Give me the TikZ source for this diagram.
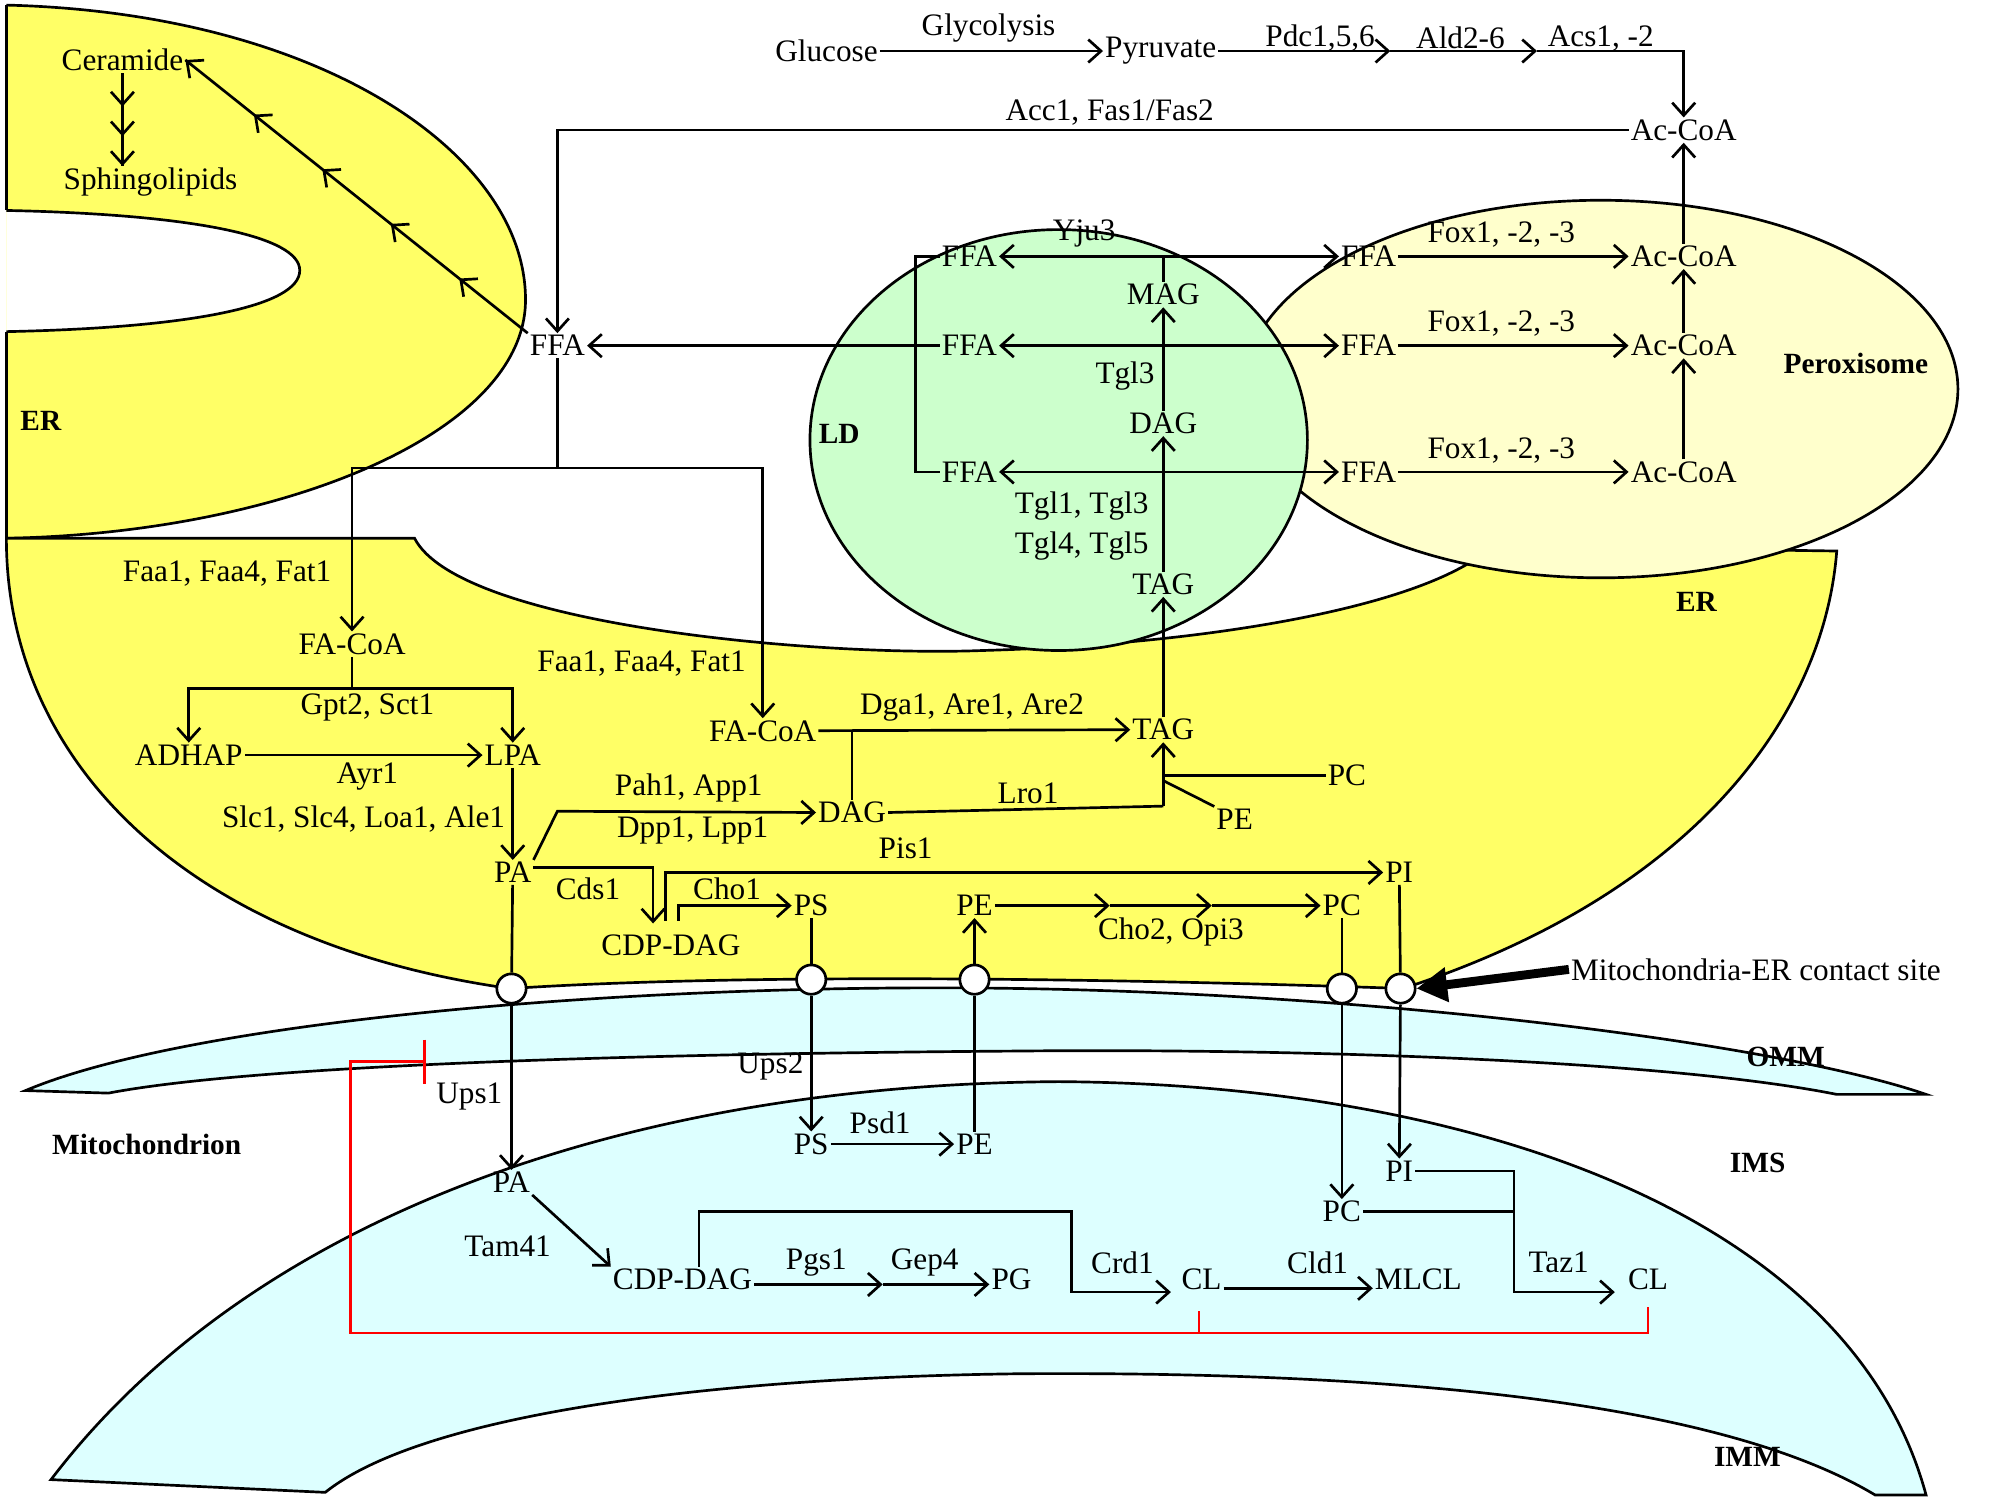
\documentclass[tikz,border=0pt]{standalone}
\usepackage{fontspec}
\setmainfont{Liberation Serif}
\usetikzlibrary{arrows.meta,decorations.markings}
\begin{document}
\begin{tikzpicture}[x=1pt,y=-1pt,
  t/.style={font=\fontsize{24.5}{28}\selectfont, inner sep=1.5pt},
  b/.style={font=\fontsize{23}{26}\selectfont\bfseries, inner sep=1pt},
  ln/.style={line width=2.1pt},
  arr/.style={ln,-{Straight Barb[length=10pt,width=18pt,line width=2.1pt]}},
  darr/.style={ln,{Straight Barb[length=10pt,width=18pt,line width=2.1pt]}-{Straight Barb[length=10pt,width=18pt,line width=2.1pt]}},
  ct/.style={circle,draw,fill=white,line width=2.1pt,minimum size=23pt,inner sep=0pt},
  midarr/.style={ln,postaction={decorate},decoration={markings,
     mark=at position 0.2 with {\arrow{Straight Barb[length=10pt,width=18pt,line width=2.1pt]}},
     mark=at position 0.4 with {\arrow{Straight Barb[length=10pt,width=18pt,line width=2.1pt]}},
     mark=at position 0.6 with {\arrow{Straight Barb[length=10pt,width=18pt,line width=2.1pt]}},
     mark=at position 0.8 with {\arrow{Straight Barb[length=10pt,width=18pt,line width=2.1pt]}},
     mark=at position 1 with {\arrow{Straight Barb[length=10pt,width=18pt,line width=2.1pt]}}}},
  triarr/.style={ln,postaction={decorate},decoration={markings,
     mark=at position 0.36 with {\arrow{Straight Barb[length=10pt,width=18pt,line width=2.1pt]}},
     mark=at position 0.68 with {\arrow{Straight Barb[length=10pt,width=18pt,line width=2.1pt]}},
     mark=at position 1 with {\arrow{Straight Barb[length=10pt,width=18pt,line width=2.1pt]}}}}]
\definecolor{ery}{RGB}{255,255,102}
\definecolor{ldg}{RGB}{204,255,204}
\definecolor{pxy}{RGB}{255,255,204}
\definecolor{mtc}{RGB}{221,255,255}
\useasboundingbox (0,0) rectangle (1568,1177);
% upper ER
\fill[ery] (5,4) .. controls (250,10) and (412,120) .. (412,235) .. controls (412,340) and (220,418) .. (5,422) -- cycle;
\draw[ln] (5,4) -- (5,165);
\draw[ln] (5,260) -- (5,422);
\draw[ln] (5,4) .. controls (250,10) and (412,120) .. (412,235) .. controls (412,340) and (220,418) .. (5,422);
\draw[ln,fill=white] (5,165) .. controls (150,168) and (235,185) .. (235,212) .. controls (235,240) and (150,257) .. (5,260);
% lower ER
\draw[ln,fill=ery] (5,422) -- (325,422) .. controls (360,490) and (640,515) .. (770,510) .. controls (950,505) and (1120,475) .. (1170,428) -- (1440,432) .. controls (1430,560) and (1330,700) .. (1100,775) .. controls (900,768) and (600,762) .. (400,775) .. controls (150,740) and (5,600) .. (5,422) -- cycle;
% peroxisome and LD
\draw[ln,fill=pxy] (1255,305) ellipse [x radius=280, y radius=148];
\draw[ln,fill=ldg] (830,345) ellipse [x radius=195, y radius=165];
% OMM
\draw[ln,fill=mtc] (20,855) .. controls (150,800) and (500,770) .. (800,775) .. controls (1100,780) and (1400,820) .. (1510,858) -- (1440,858) .. controls (1300,830) and (1000,822) .. (800,824) .. controls (500,826) and (200,835) .. (85,857) -- cycle;
% IMM
\draw[ln,fill=mtc] (40,1160) .. controls (200,950) and (500,850) .. (830,848) .. controls (1150,850) and (1450,950) .. (1510,1172) -- (1470,1172) .. controls (1350,1100) and (1100,1075) .. (800,1077) .. controls (550,1080) and (330,1110) .. (255,1170) -- cycle;

% bold labels
\node[b] at (32,330) {ER};
\node[b] at (1330,472) {ER};
\node[b] at (658,340) {LD};
\node[b] at (1455,285) {Peroxisome};
\node[b] at (1400,829) {OMM};
\node[b] at (115,897) {Mitochondrion};
\node[b] at (1378,912) {IMS};
\node[b] at (1370,1142) {IMM};

% top pathway
\node[t] (glu) at (648,40) {Glucose};
\node[t] (pyr) at (910,40) {Pyruvate};
\node[t] at (775,22) {Glycolysis};
\node[t] at (1035,30) {Pdc1,5,6};
\node[t] at (1145,30) {Ald2-6};
\node[t] at (1255,30) {Acs1, -2};
\node[t] (ac0) at (1320,102) {Ac-CoA};
\node[t] at (870,88) {Acc1, Fas1/Fas2};
\coordinate (p1) at (1090,40);
\coordinate (p2) at (1205,40);
\draw[arr] (glu) -- (pyr);
\draw[arr] (pyr.east) -- (p1);
\draw[arr] (p1) -- (p2);
\draw[arr] (p2) -| (ac0.north);

% peroxisome
\node[t] (pf1) at (1073,201) {FFA};
\node[t] (pf2) at (1073,271) {FFA};
\node[t] (pf3) at (1073,370) {FFA};
\node[t] (pa1) at (1320,201) {Ac-CoA};
\node[t] (pa2) at (1320,271) {Ac-CoA};
\node[t] (pa3) at (1320,370) {Ac-CoA};
\node[t] at (1177,184) {Fox1, -2, -3};
\node[t] at (1177,254) {Fox1, -2, -3};
\node[t] at (1177,353) {Fox1, -2, -3};
\draw[arr] (pf1) -- (pa1);
\draw[arr] (pf2) -- (pa2);
\draw[arr] (pf3) -- (pa3);
\draw[arr] (pa3) -- (pa2);
\draw[arr] (pa2) -- (pa1);
\draw[arr] (pa1) -- (ac0);

% LD
\node[t] (lf1) at (760,201) {FFA};
\node[t] (lf2) at (760,271) {FFA};
\node[t] (lf3) at (760,370) {FFA};
\node[t] (mag) at (912,231) {MAG};
\node[t] (dag1) at (912,332) {DAG};
\node[t] (tag1) at (912,458) {TAG};
\node[t] at (850,183) {Yju3};
\node[t] at (882,295) {Tgl3};
\node[t] at (848,397) {Tgl1, Tgl3};
\node[t] at (848,428) {Tgl4, Tgl5};
\draw[darr] (lf1) -- (pf1);
\draw[darr] (lf2) -- (pf2);
\draw[darr] (lf3) -- (pf3);
\coordinate (v1) at (718,201);
\coordinate (v3) at (718,370);
\draw[ln] (lf1.west) -- (v1) -- (v3) -- (lf3.west);
\draw[ln] (mag.north) -- (mag.north |- lf1);
\draw[arr] (dag1) -- (mag);
\draw[arr] (tag1) -- (dag1);

% upper ER
\node[t] (ffa0) at (437,271) {FFA};
\node[t] (cer) at (96,47) {Ceramide};
\node[t] (sph) at (118,143) {Sphingolipids};
\draw[arr] (lf2) -- (ffa0);
\draw[arr] (ac0.west) -| (ffa0.north);
\draw[midarr] (ffa0.north west) -- (cer.east);
\draw[triarr] (cer.south) -- (sph.north -| cer.south);

% lower ER
\node[t] at (178,450) {Faa1, Faa4, Fat1};
\node[t] (fac1) at (276,505) {FA-CoA};
\node[t] at (288,555) {Gpt2, Sct1};
\node[t] (adhap) at (148,592) {ADHAP};
\node[t] (lpa) at (402,592) {LPA};
\node[t] at (288,609) {Ayr1};
\node[t] at (285,642) {Slc1, Slc4, Loa1, Ale1};
\node[t] (pa1e) at (402,684) {PA};
\node[t] at (503,520) {Faa1, Faa4, Fat1};
\node[t] (fac2) at (598,573) {FA-CoA};
\node[t] at (762,555) {Dga1, Are1, Are2};
\node[t] (tag2) at (912,572) {TAG};
\node[t] (dag2) at (668,637) {DAG};
\node[t] at (540,618) {Pah1, App1};
\node[t] at (543,651) {Dpp1, Lpp1};
\node[t] at (806,622) {Lro1};
\node[t] (pcer) at (1056,608) {PC};
\node[t] (peer) at (968,642) {PE};
\node[t] at (710,665) {Pis1};
\node[t] at (461,697) {Cds1};
\node[t] (cdp1) at (526,741) {CDP-DAG};
\node[t] at (570,697) {Cho1};
\node[t] (ps1) at (636,710) {PS};
\node[t] (pe1) at (764,710) {PE};
\node[t] (pc1) at (1052,710) {PC};
\node[t] (pi1) at (1097,684) {PI};
\node[t] at (918,731) {Cho2, Opi3};

\coordinate (j1) at (437,367);
\draw[ln] (ffa0.south) -- (j1);
\draw[arr] (j1) -| (fac1.north);
\draw[arr] (j1) -| (fac2.north);
\coordinate (j2) at (276,540);
\draw[ln] (fac1.south) -- (j2);
\draw[arr] (j2) -| (adhap.north);
\draw[arr] (j2) -| (lpa.north);
\draw[arr] (adhap) -- (lpa);
\draw[arr] (lpa) -- (pa1e);
\draw[arr] (fac2) -- (tag2);
\draw[ln] (dag2.north) -- (dag2.north |- fac2);
\coordinate (k1) at (437,636);
\draw[arr] (pa1e.north east) -- (k1) -- (dag2.west);
\coordinate (j3) at (912,632);
\draw[ln] (dag2.east) -- (j3);
\draw[arr] (j3) -- (tag2.south);
\coordinate (j4) at (912,608);
\draw[ln] (pcer.west) -- (j4);
\coordinate (j5) at (912,612);
\draw[ln] (peer.north west) -- (j5);
\draw[arr] (tag2) -- (tag1);
\coordinate (k2) at (512,680);
\coordinate (k3) at (512,724);
\draw[arr] (pa1e.east |- k2) -- (k2) -- (k3);
\coordinate (k4) at (522,722);
\draw[arr] (k4) |- (pi1.west);
\coordinate (k5) at (532,722);
\draw[arr] (k5) |- (ps1.west);
\coordinate (e1) at (870,710);
\coordinate (e2) at (950,710);
\draw[arr] (pe1.east) -- (e1);
\draw[arr] (e1) -- (e2);
\draw[arr] (e2) -- (pc1.west);

% contact sites
\node[ct] (c1) at (401,775) {};
\node[ct] (c2) at (636,768) {};
\node[ct] (c3) at (764,768) {};
\node[ct] (c4) at (1052,775) {};
\node[ct] (c5) at (1098,775) {};
\node[t,anchor=west] (mcs) at (1230,760) {Mitochondria-ER contact site};
\draw[line width=7pt,-{Triangle[length=24pt,width=26pt]}] (mcs.west) -- (c5.east);

% mitochondrion
\node[t] (pa2m) at (401,927) {PA};
\node[t] (ps2) at (636,897) {PS};
\node[t] (pe2) at (764,897) {PE};
\node[t] (pc2) at (1052,950) {PC};
\node[t] (pi2) at (1097,918) {PI};
\node[t] at (604,836) {Ups2};
\node[t] (ups1) at (368,860) {Ups1};
\node[t] at (690,880) {Psd1};
\node[t] at (398,977) {Tam41};
\node[t] (cdp2) at (535,1003) {CDP-DAG};
\node[t] at (640,990) {Pgs1};
\node[t] at (725,990) {Gep4};
\node[t] (pg) at (793,1003) {PG};
\node[t] at (880,990) {Crd1};
\node[t] (cl1) at (942,1003) {CL};
\node[t] at (1033,990) {Cld1};
\node[t] (mlcl) at (1112,1003) {MLCL};
\node[t] at (1222,990) {Taz1};
\node[t] (cl2) at (1292,1003) {CL};

\draw[ln] (pa1e) -- (c1);  \draw[arr] (c1) -- (pa2m);
\draw[ln] (ps1) -- (c2);   \draw[arr] (c2) -- (ps2);
\draw[ln] (pe2) -- (c3);   \draw[arr] (c3) -- (pe1);
\draw[ln] (pc1) -- (c4);   \draw[arr] (c4) -- (pc2);
\draw[ln] (pi1) -- (c5);   \draw[arr] (c5) -- (pi2);
\draw[arr] (ps2) -- (pe2);
\draw[arr] (pa2m.south east) -- (cdp2.north west);
\coordinate (g1) at (692,1007);
\draw[arr] (cdp2.east |- g1) -- (g1);
\draw[arr] (g1) -- (pg.west |- g1);
\coordinate (d1) at (548,950);
\coordinate (d2) at (840,950);
\coordinate (d3) at (840,1013);
\coordinate (d4) at (918,1013);
\draw[arr] (cdp2.north -| d1) -- (d1) -- (d2) -- (d3) -- (d4);
\draw[arr] (cl1.east |- 0,1010) -- (mlcl.west |- 0,1010);
\coordinate (f1) at (1187,918);
\coordinate (f2) at (1187,1013);
\coordinate (f3) at (1266,1013);
\draw[arr] (pi2.east) -- (f1) -- (f2) -- (f3);
\draw[ln] (pc2.east) -- (pc2.east -| f1);

% red inhibition
\coordinate (r0) at (333,832);
\coordinate (r1) at (275,832);
\coordinate (r2) at (275,1045);
\coordinate (r3) at (1292,1045);
\draw[red,line width=2.1pt] (333,815) -- (333,850);
\draw[red,line width=2.1pt] (r0) -- (r1) -- (r2) -- (r3) -- (1292,1025);
\draw[red,line width=2.1pt] (940,1045) -- (940,1028);
\end{tikzpicture}
\end{document}
